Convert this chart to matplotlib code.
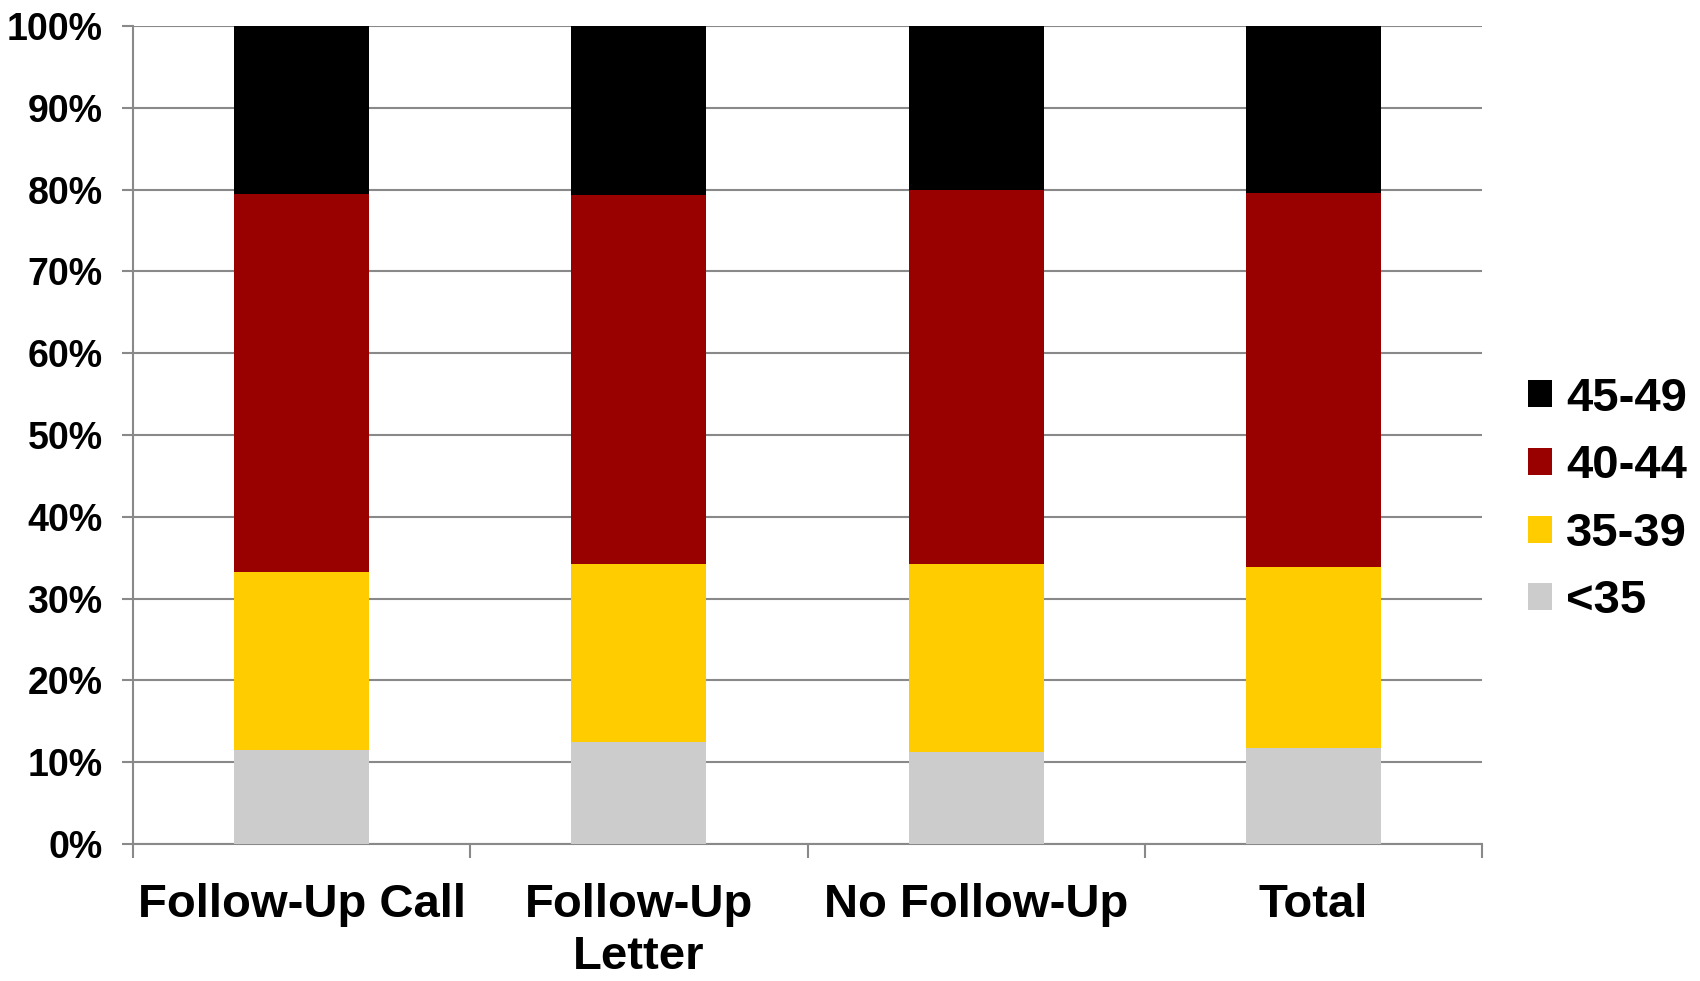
import matplotlib
matplotlib.use("Agg")
import matplotlib.pyplot as plt
import numpy as np
from matplotlib.patches import Patch

plt.rcParams['font.family'] = ['Liberation Sans', 'DejaVu Sans']
plt.rcParams['font.weight'] = 'bold'

categories = ["Follow-Up Call", "Follow-Up\nLetter", "No Follow-Up", "Total"]
series_names = ["<35", "35-39", "40-44", "45-49"]
under35 = [11.5, 12.5, 11.2, 11.7]
age35_39 = [21.8, 21.7, 23.0, 22.2]
age40_44 = [46.2, 45.2, 45.8, 45.7]
age45_49 = [20.5, 20.6, 20.0, 20.4]
colors = ["#CCCCCC", "#FFCC00", "#990000", "#000000"]
yticks = [0, 10, 20, 30, 40, 50, 60, 70, 80, 90, 100]
ytick_labels = [f"{v}%" for v in yticks]

fig = plt.figure(figsize=(17, 9.81), dpi=100)
ax = fig.add_axes([133/1700, 1 - 844/981, (1482-133)/1700, (844-26)/981])

x = np.arange(len(categories))
bottom = np.zeros(len(categories))
handles = []
for vals, name, col in zip([under35, age35_39, age40_44, age45_49], series_names, colors):
    ax.bar(x, vals, width=0.4, bottom=bottom, color=col, edgecolor='none', zorder=3, label=name)
    bottom += np.array(vals)
    handles.append(Patch(facecolor=col, edgecolor='none', label=name))

ax.set_xlim(-0.5, len(categories) - 0.5)
ax.set_ylim(0, 100)
ax.set_yticks(yticks)
ax.set_yticklabels(ytick_labels, fontsize=27, fontweight='bold')
ax.set_xticks(x)
ax.set_xticklabels(categories, fontsize=34, fontweight='bold', linespacing=1.25)
ax.set_xticks(np.arange(-0.5, len(categories)), minor=True)
ax.tick_params(axis='x', which='major', length=0, pad=28)
ax.tick_params(axis='x', which='minor', length=10, width=1.5, color='#898989')
ax.tick_params(axis='y', which='major', length=8, width=1.5, color='#898989', pad=14)

ax.yaxis.grid(True, color='#898989', linewidth=1.5, zorder=0)
ax.set_axisbelow(True)
for s in ['top', 'right']:
    ax.spines[s].set_visible(False)
for s in ['left', 'bottom']:
    ax.spines[s].set_color('#898989')
    ax.spines[s].set_linewidth(1.5)

leg = fig.legend(handles=handles[::-1], loc='center left',
                 bbox_to_anchor=(1528/1700, 1 - 500/981), frameon=False,
                 prop={'weight': 'bold', 'size': 34},
                 handlelength=0.5, handleheight=0.5, handletextpad=0.3,
                 labelspacing=0.5, borderpad=0, borderaxespad=0)

fig.savefig("out.png", dpi=100)
